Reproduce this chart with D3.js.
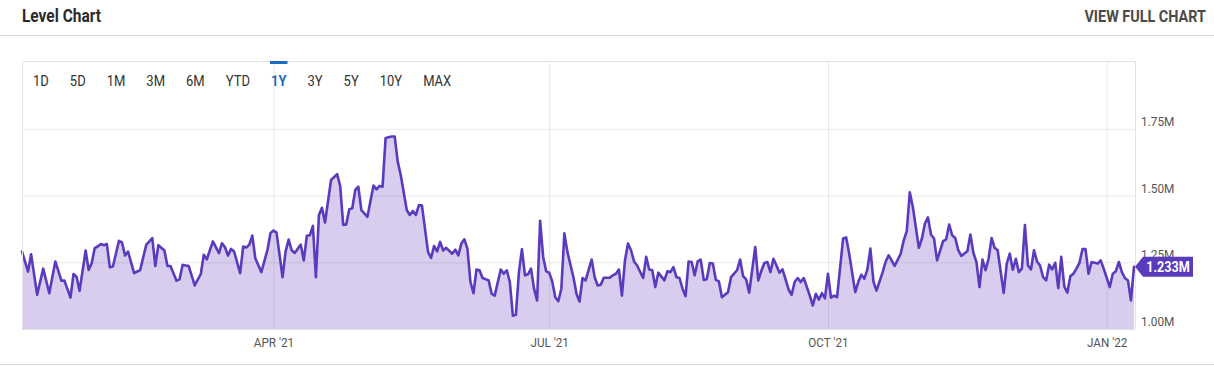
<!DOCTYPE html>
<html>
<head>
<meta charset="utf-8">
<script src="https://cdn.jsdelivr.net/npm/d3@7"></script>
<style>
  html, body { margin: 0; padding: 0; background: #fff; }
  svg { display: block; font-family: Roboto, sans-serif; }
</style>
</head>
<body>
<div id="chart"></div>
<script>
// Series: level readings (millions), one entry per vertex.
const dates = [
  "2021-01-08","2021-01-10","2021-01-11","2021-01-13","2021-01-15","2021-01-17","2021-01-19","2021-01-21","2021-01-22","2021-01-24","2021-01-25","2021-01-26","2021-01-27","2021-01-29","2021-01-30","2021-01-31",
  "2021-02-01","2021-02-02","2021-02-03","2021-02-04","2021-02-05","2021-02-06","2021-02-07","2021-02-09","2021-02-10","2021-02-11","2021-02-12","2021-02-14","2021-02-16","2021-02-18","2021-02-20","2021-02-21","2021-02-22","2021-02-24","2021-02-25","2021-02-26","2021-02-28",
  "2021-03-01","2021-03-02","2021-03-04","2021-03-06","2021-03-08","2021-03-09","2021-03-10","2021-03-12","2021-03-14","2021-03-15","2021-03-16","2021-03-17","2021-03-18","2021-03-19","2021-03-21","2021-03-22","2021-03-23","2021-03-24","2021-03-25","2021-03-26","2021-03-28","2021-03-30","2021-03-31",
  "2021-04-01","2021-04-02","2021-04-04","2021-04-05","2021-04-06","2021-04-07","2021-04-08","2021-04-10","2021-04-11","2021-04-12","2021-04-13","2021-04-14","2021-04-15","2021-04-16","2021-04-17","2021-04-18","2021-04-20","2021-04-22","2021-04-23","2021-04-24","2021-04-25","2021-04-26","2021-04-27","2021-04-28","2021-04-29","2021-04-30",
  "2021-05-02","2021-05-04","2021-05-05","2021-05-06","2021-05-07","2021-05-08","2021-05-10","2021-05-11","2021-05-12","2021-05-13","2021-05-15","2021-05-16","2021-05-17","2021-05-18","2021-05-19","2021-05-20","2021-05-22","2021-05-23","2021-05-24","2021-05-25","2021-05-26","2021-05-27","2021-05-28","2021-05-30","2021-05-31",
  "2021-06-01","2021-06-02","2021-06-03","2021-06-04","2021-06-05","2021-06-06","2021-06-07","2021-06-08","2021-06-09","2021-06-11","2021-06-12","2021-06-13","2021-06-15","2021-06-16","2021-06-17","2021-06-18","2021-06-19","2021-06-20","2021-06-21","2021-06-22","2021-06-23","2021-06-24","2021-06-25","2021-06-26","2021-06-27","2021-06-28","2021-06-29","2021-06-30",
  "2021-07-01","2021-07-02","2021-07-03","2021-07-04","2021-07-05","2021-07-06","2021-07-07","2021-07-08","2021-07-09","2021-07-10","2021-07-11","2021-07-12","2021-07-13","2021-07-15","2021-07-16","2021-07-17","2021-07-18","2021-07-19","2021-07-21","2021-07-22","2021-07-23","2021-07-24","2021-07-25","2021-07-26","2021-07-27","2021-07-28","2021-07-29","2021-07-30",
  "2021-08-01","2021-08-02","2021-08-03","2021-08-04","2021-08-05","2021-08-06","2021-08-08","2021-08-09","2021-08-10","2021-08-11","2021-08-12","2021-08-13","2021-08-14","2021-08-15","2021-08-16","2021-08-17","2021-08-18","2021-08-19","2021-08-20","2021-08-21","2021-08-22","2021-08-23","2021-08-24","2021-08-25","2021-08-26","2021-08-27","2021-08-29","2021-08-30",
  "2021-09-01","2021-09-02","2021-09-03","2021-09-04","2021-09-05","2021-09-07","2021-09-08","2021-09-09","2021-09-10","2021-09-11","2021-09-12","2021-09-13","2021-09-14","2021-09-15","2021-09-16","2021-09-18","2021-09-19","2021-09-20","2021-09-21","2021-09-22","2021-09-23","2021-09-25","2021-09-26","2021-09-27","2021-09-28","2021-09-29","2021-09-30",
  "2021-10-01","2021-10-02","2021-10-03","2021-10-04","2021-10-06","2021-10-07","2021-10-08","2021-10-10","2021-10-11","2021-10-12","2021-10-13","2021-10-14","2021-10-15","2021-10-16","2021-10-17","2021-10-19","2021-10-20","2021-10-21","2021-10-22","2021-10-23","2021-10-25","2021-10-26","2021-10-27","2021-10-28","2021-10-29","2021-10-31",
  "2021-11-01","2021-11-02","2021-11-03","2021-11-04","2021-11-05","2021-11-06","2021-11-08","2021-11-09","2021-11-10","2021-11-11","2021-11-12","2021-11-13","2021-11-14","2021-11-16","2021-11-17","2021-11-18","2021-11-19","2021-11-20","2021-11-21","2021-11-22","2021-11-23","2021-11-24","2021-11-25","2021-11-26","2021-11-28","2021-11-29","2021-11-30",
  "2021-12-01","2021-12-02","2021-12-03","2021-12-04","2021-12-05","2021-12-06","2021-12-07","2021-12-08","2021-12-09","2021-12-10","2021-12-11","2021-12-12","2021-12-13","2021-12-14","2021-12-15","2021-12-16","2021-12-17","2021-12-18","2021-12-19","2021-12-20","2021-12-21","2021-12-22","2021-12-23","2021-12-24","2021-12-25","2021-12-26","2021-12-27","2021-12-29","2021-12-30","2021-12-31",
  "2022-01-02","2022-01-03","2022-01-04","2022-01-05","2022-01-06","2022-01-07","2022-01-08","2022-01-09","2022-01-10"
];

const values = [
  1.290,1.215,1.280,1.128,1.226,1.134,1.253,1.181,1.181,1.118,1.206,1.196,1.143,1.294,1.221,1.246,
  1.303,1.309,1.318,1.314,1.318,1.231,1.234,1.330,1.324,1.275,1.290,1.209,1.221,1.315,1.340,1.236,1.314,1.294,1.236,1.236,1.181,
  1.186,1.240,1.236,1.163,1.206,1.278,1.261,1.328,1.284,1.321,1.306,1.275,1.300,1.290,1.209,1.309,1.305,1.315,1.350,1.265,1.213,1.296,1.359,
  1.369,1.361,1.194,1.291,1.335,1.295,1.285,1.316,1.257,1.349,1.351,1.386,1.194,1.427,1.454,1.399,1.558,1.580,1.536,1.391,1.391,1.448,1.452,1.521,1.533,1.445,
  1.420,1.537,1.523,1.536,1.533,1.715,1.721,1.721,1.627,1.577,1.445,1.427,1.442,1.427,1.464,1.462,1.289,1.266,1.311,1.291,1.326,1.294,1.304,1.282,1.297,
  1.276,1.320,1.336,1.301,1.176,1.134,1.223,1.220,1.191,1.182,1.132,1.125,1.223,1.207,1.220,1.176,1.050,1.053,1.213,1.299,1.201,1.205,1.226,1.151,1.107,1.405,1.270,1.216,
  1.211,1.178,1.119,1.104,1.151,1.358,1.289,1.241,1.194,1.132,1.103,1.191,1.182,1.260,1.194,1.163,1.166,1.192,1.192,1.201,1.207,1.223,1.125,1.257,1.320,1.295,1.253,1.238,
  1.191,1.270,1.223,1.220,1.157,1.211,1.182,1.216,1.213,1.232,1.194,1.191,1.151,1.123,1.253,1.251,1.201,1.253,1.260,1.184,1.186,1.247,1.245,1.184,1.178,1.119,1.138,1.194,
  1.220,1.260,1.198,1.186,1.136,1.307,1.182,1.217,1.247,1.251,1.213,1.263,1.238,1.211,1.223,1.148,1.128,1.176,1.191,1.176,1.191,1.125,1.088,1.132,1.110,1.134,1.115,
  1.207,1.117,1.125,1.119,1.339,1.343,1.282,1.138,1.176,1.203,1.188,1.223,1.301,1.178,1.144,1.211,1.251,1.276,1.257,1.236,1.282,1.332,1.366,1.512,1.458,1.304,
  1.339,1.395,1.418,1.354,1.339,1.257,1.329,1.336,1.391,1.351,1.341,1.295,1.274,1.291,1.354,1.285,1.251,1.157,1.260,1.220,1.263,1.341,1.304,1.295,1.135,1.245,1.282,
  1.222,1.263,1.213,1.226,1.389,1.238,1.223,1.295,1.253,1.238,1.194,1.182,1.241,1.223,1.248,1.153,1.270,1.159,1.136,1.198,1.207,1.226,1.248,1.299,1.299,1.207,1.251,1.245,1.257,1.226,
  1.157,1.207,1.216,1.251,1.213,1.191,1.182,1.107,1.233
];

const yTicks = [1.00, 1.25, 1.50, 1.75];
const yDomain = [1.0, 2.0];
const rangeButtons = ["1D", "5D", "1M", "3M", "6M", "YTD", "1Y", "3Y", "5Y", "10Y", "MAX"];
const activeRange = "1Y";
const chartTitle = "Level Chart";
const linkLabel = "VIEW FULL CHART";

// Page and plot settings.
const width = 1214;
const height = 366;
const plot = ({ left: 22, right: 1135, top: 61, bottom: 329 });
const lineColor = "#5a3bbd";
const fillColor = "#d8cdef";
const gridColor = "rgba(0,0,0,0.085)";
const textColor = "#555";

const parse = d3.utcParse("%Y-%m-%d");
const data = dates.map((d, i) => ({ date: parse(d), value: values[i] }));

const svg = d3.select("#chart")
  .append("svg")
  .attr("width", width)
  .attr("height", height)
  .attr("viewBox", [0, 0, width, height]);

// Condensed look: Roboto squeezed horizontally around its anchor point.
function condensed(sel, x, y, sx) {
  sel.attr("x", 0).attr("y", 0).attr("dy", 0)
    .attr("transform", `translate(${x},${y}) scale(${sx},1)`);
  return sel;
}

// Header.
svg.append("text")
  .attr("fill", "#2b2b2b")
  .attr("font-size", 18)
  .attr("font-weight", "bold")
  .text(chartTitle)
  .call(condensed, 22, 22, 0.86);

svg.append("text")
  .attr("text-anchor", "end")
  .attr("fill", "#4a4a4a")
  .attr("font-size", 16)
  .attr("font-weight", "bold")
  .text(linkLabel)
  .call(condensed, 1206, 21.5, 0.9);

svg.append("line")
  .attr("x1", 0).attr("x2", width)
  .attr("y1", 35.5).attr("y2", 35.5)
  .attr("stroke", "#d8d8d8");

svg.append("line")
  .attr("x1", 0).attr("x2", width)
  .attr("y1", 364.5).attr("y2", 364.5)
  .attr("stroke", "#d8d8d8");

// Scales.
const x = d3.scaleUtc()
  .domain(d3.extent(data, d => d.date))
  .range([plot.left, plot.right - 1]);

const y = d3.scaleLinear()
  .domain(yDomain)
  .range([plot.bottom, plot.top + 1]);

// Area + line.
const area = d3.area()
  .curve(d3.curveLinear)
  .x(d => x(d.date))
  .y0(y(yDomain[0]))
  .y1(d => y(d.value));

const line = d3.line()
  .curve(d3.curveLinear)
  .x(d => x(d.date))
  .y(d => y(d.value));

svg.append("path")
  .datum(data)
  .attr("fill", fillColor)
  .attr("d", area);

// Horizontal grid + y labels.
const yAxis = svg.append("g")
  .attr("transform", `translate(${plot.right},0)`)
  .call(d3.axisRight(y)
    .tickValues(yTicks)
    .tickSize(-(plot.right - plot.left))
    .tickFormat(d => d3.format(".2f")(d) + "M"));

yAxis.select(".domain").remove();
yAxis.selectAll(".tick line").attr("stroke", gridColor);
yAxis.selectAll(".tick text")
  .attr("fill", textColor)
  .attr("font-size", 13)
  .attr("font-family", "Roboto, sans-serif")
  .each(function () { condensed(d3.select(this), 6, -3.5, 0.91); });

// Vertical grid + x labels.
const xAxis = svg.append("g")
  .attr("transform", `translate(0,${plot.bottom})`)
  .call(d3.axisBottom(x)
    .ticks(d3.utcMonth.every(3))
    .tickSize(-(plot.bottom - plot.top))
    .tickFormat(d => d3.utcFormat("%b '%y")(d).toUpperCase()));

xAxis.select(".domain").remove();
xAxis.selectAll(".tick line").attr("stroke", gridColor);
xAxis.selectAll(".tick text")
  .attr("fill", textColor)
  .attr("font-size", 13)
  .attr("font-family", "Roboto, sans-serif")
  .each(function () { condensed(d3.select(this), 0, 17.5, 0.9); });

svg.append("path")
  .datum(data)
  .attr("fill", "none")
  .attr("stroke", lineColor)
  .attr("stroke-width", 2.6)
  .attr("stroke-linejoin", "round")
  .attr("stroke-linecap", "round")
  .attr("d", line);

// Chart frame.
svg.append("path")
  .attr("fill", "none")
  .attr("stroke", "#e3e3e3")
  .attr("d", `M${plot.left + 0.5},${plot.bottom}V${plot.top + 0.5}H${plot.right + 0.5}V${plot.bottom}`);

svg.append("line")
  .attr("x1", plot.left).attr("x2", plot.right)
  .attr("y1", plot.bottom + 0.5).attr("y2", plot.bottom + 0.5)
  .attr("stroke", "rgba(0,0,0,0.04)");

// Range selector.
const btnScale = 0.84;
let bx = 33;
rangeButtons.forEach(label => {
  const active = label === activeRange;
  const t = svg.append("text")
    .attr("fill", active ? "#1c6bbd" : "#333")
    .attr("font-size", 15.5)
    .attr("font-weight", active ? "bold" : "normal")
    .text(label)
    .call(condensed, bx, 85.5, btnScale);
  const w = t.node().getComputedTextLength() * btnScale;
  if (active) {
    svg.append("rect")
      .attr("x", bx - 1)
      .attr("y", plot.top)
      .attr("width", w + 2)
      .attr("height", 3)
      .attr("fill", "#1c6bbd");
  }
  bx += w + 21;
});

// Last value badge.
const last = data[data.length - 1];
const ly = y(last.value);
const bx0 = x(last.date) + 1;
svg.append("path")
  .attr("fill", lineColor)
  .attr("d", `M${bx0},${ly}L${bx0 + 8},${ly - 10}H${bx0 + 58}V${ly + 10}H${bx0 + 8}Z`);

svg.append("text")
  .attr("text-anchor", "middle")
  .attr("fill", "#fff")
  .attr("font-size", 14)
  .attr("font-weight", "bold")
  .text(d3.format(".3f")(last.value) + "M")
  .call(condensed, bx0 + 33, ly + 5, 0.9);
</script>
</body>
</html>
